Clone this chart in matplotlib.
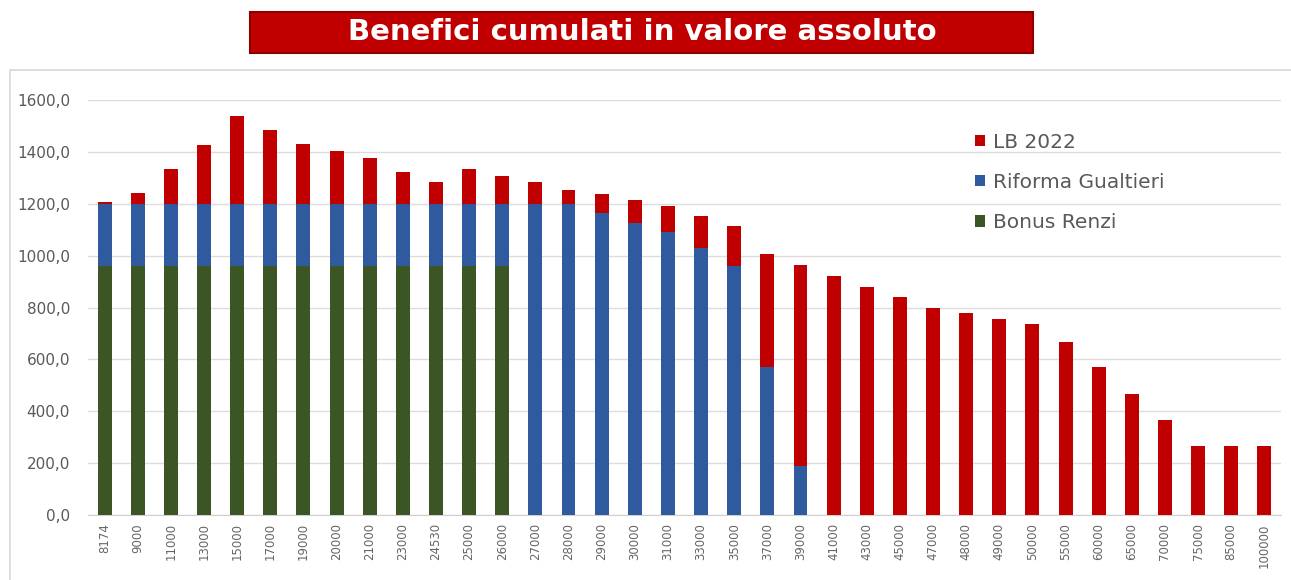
import numpy as np
import matplotlib
matplotlib.use("Agg")
import matplotlib.pyplot as plt
from matplotlib.patches import Rectangle
from matplotlib.ticker import FuncFormatter

redditi = ["8174", "9000", "11000", "13000", "15000", "17000", "19000", "20000",
           "21000", "23000", "24530", "25000", "26000", "27000", "28000", "29000",
           "30000", "31000", "33000", "35000", "37000", "39000", "41000", "43000",
           "45000", "47000", "48000", "49000", "50000", "55000", "60000", "65000",
           "70000", "75000", "85000", "100000"]

bonus_renzi = [960, 960, 960, 960, 960, 960, 960, 960, 960, 960, 960, 960, 960,
               0, 0, 0, 0, 0, 0, 0, 0, 0, 0, 0, 0, 0, 0, 0, 0, 0, 0, 0, 0, 0, 0, 0]

riforma_gualtieri = [240, 240, 240, 240, 240, 240, 240, 240, 240, 240, 240, 240, 240,
                     1200, 1200, 1163, 1127, 1092, 1028, 960, 572, 189,
                     0, 0, 0, 0, 0, 0, 0, 0, 0, 0, 0, 0, 0, 0]

lb_2022 = [8, 43, 136, 226, 338, 286, 230, 204, 178, 124, 85, 136, 106,
           85, 55, 74, 87, 101, 124, 154, 434, 775,
           922, 880, 841, 800, 779, 757, 738, 668, 569, 468, 366, 267, 267, 267]

rosso = "#C00000"
blu = "#2F5A9E"
verde = "#3B5624"
grigio = "#595959"

fig = plt.figure(figsize=(12.91, 5.80), dpi=100)
ax = fig.add_axes([0.0682, 0.112, 0.924, 0.7155])

x = np.arange(len(redditi))
larg = 0.42
b1 = ax.bar(x, bonus_renzi, larg, color=verde, label="Bonus Renzi", zorder=3)
b2 = ax.bar(x, riforma_gualtieri, larg, bottom=bonus_renzi, color=blu,
            label="Riforma Gualtieri", zorder=3)
base = np.array(bonus_renzi) + np.array(riforma_gualtieri)
b3 = ax.bar(x, lb_2022, larg, bottom=base, color=rosso, label="LB 2022", zorder=3)

ax.set_xlim(-0.5, len(redditi) - 0.5)
ax.set_ylim(0, 1600)
ax.set_yticks(np.arange(0, 1601, 200))
ax.yaxis.set_major_formatter(FuncFormatter(lambda v, p: f"{v:.1f}".replace(".", ",")))
ax.set_xticks(x)
ax.set_xticklabels(redditi, rotation=90)
ax.grid(axis="y", color="#DCDCDC", linewidth=1, zorder=0)
for s in ["top", "right", "left"]:
    ax.spines[s].set_visible(False)
ax.spines["bottom"].set_color("#D0D0D0")
ax.tick_params(axis="y", length=0, pad=13, labelsize=11, labelcolor=grigio)
ax.tick_params(axis="x", length=0, pad=6, labelsize=8.5, labelcolor="#666666")

leg = ax.legend(handles=[b3, b2, b1], loc="upper left", bbox_to_anchor=(0.728, 0.965),
                frameon=False, fontsize=14.5, labelcolor=grigio,
                handlelength=0.5, handleheight=0.5, handletextpad=0.4,
                labelspacing=1.05)

# cornice del grafico
fig.patches.append(Rectangle((10 / 1291, -0.01), 1.02, 1 - 70 / 580 + 0.01,
                             transform=fig.transFigure, fill=False,
                             edgecolor="#D8D8D8", linewidth=1.2))

# titolo nel riquadro rosso
fig.patches.append(Rectangle((250 / 1291, 1 - 53 / 580), 783 / 1291, 41 / 580,
                             transform=fig.transFigure, facecolor=rosso,
                             edgecolor="#8E0000", linewidth=1.5))
fig.text(642 / 1291, 1 - 32 / 580, "Benefici cumulati in valore assoluto",
         ha="center", va="center", color="white", fontsize=21,
         fontweight="bold", family="DejaVu Sans")

fig.savefig("out.png", dpi=100)
